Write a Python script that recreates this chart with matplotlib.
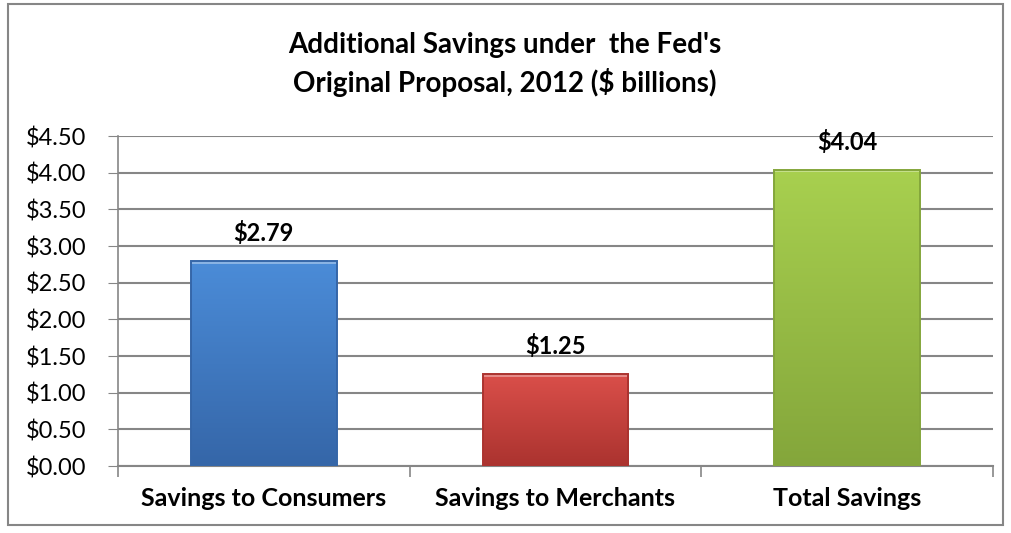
import numpy as np
import matplotlib.pyplot as plt
from matplotlib.patches import Rectangle
from matplotlib.colors import LinearSegmentedColormap

categories = ["Savings to Consumers", "Savings to Merchants", "Total Savings"]
savings = [2.79, 1.25, 4.04]
value_labels = ["$2.79", "$1.25", "$4.04"]
y_ticks = [0.0, 0.5, 1.0, 1.5, 2.0, 2.5, 3.0, 3.5, 4.0, 4.5]

# light top -> dark bottom shading for each bar
bar_shades = [
    ("#4b8cd8", "#3566a8"),
    ("#da4f4a", "#ab332f"),
    ("#a8d04f", "#84a63b"),
]

plt.rcParams["font.family"] = ["Lato", "DejaVu Sans"]

fig = plt.figure(figsize=(10.11, 5.33), dpi=100)
ax = fig.add_axes([0.1167, 0.1257, 0.8655, 0.6191])

x = np.arange(len(categories))
bars = ax.bar(x, savings, width=0.5, color="none", edgecolor="none", zorder=3)

for bar, (top, bottom) in zip(bars, bar_shades):
    x0, w, h = bar.get_x(), bar.get_width(), bar.get_height()
    cmap = LinearSegmentedColormap.from_list("shade", [bottom, top])
    grad = np.linspace(0, 1, 256).reshape(-1, 1)
    im = ax.imshow(grad, cmap=cmap, aspect="auto", origin="lower",
                   extent=(x0, x0 + w, 0, h), zorder=3)
    im.set_clip_path(bar)
    # bevel edges: light rim on top, darker rim round the bar
    ax.add_patch(Rectangle((x0, h - 0.03), w, 0.03, color="white", alpha=0.35,
                           lw=0, zorder=4))
    ax.add_patch(Rectangle((x0, 0), w, h, fill=False, edgecolor=bottom,
                           lw=1.4, zorder=4))

for xi, v, lab in zip(x, savings, value_labels):
    ax.text(xi, v + 0.22, lab, ha="center", va="bottom", fontsize=17,
            fontweight="bold", zorder=5)

ax.set_xlim(-0.5, len(categories) - 0.5)
ax.set_ylim(0, 4.5)
ax.set_yticks(y_ticks)
ax.set_yticklabels([f"${t:.2f}" for t in y_ticks], fontsize=17)
ax.set_xticks(x)
ax.set_xticklabels(categories, fontsize=18, fontweight="bold")
ax.tick_params(axis="x", length=0, pad=15)
ax.tick_params(axis="y", length=7, color="#868686", pad=16)

# category separators below the axis
ax.set_xticks(np.arange(len(categories) + 1) - 0.5, minor=True)
ax.tick_params(axis="x", which="minor", length=8, color="#868686", width=1.2)

ax.grid(axis="y", color="#868686", lw=1.5, zorder=0)
ax.set_axisbelow(True)
for side in ("top", "right"):
    ax.spines[side].set_visible(False)
ax.spines["left"].set_color("#868686")
ax.spines["bottom"].set_color("#868686")
ax.spines["left"].set_linewidth(1.2)
ax.spines["bottom"].set_linewidth(1.5)

fig.text(0.4995, 0.915, "Additional Savings under  the Fed's", ha="center",
         va="center", fontsize=20, fontweight="bold")
fig.text(0.4995, 0.845, "Original Proposal, 2012 ($ billions)", ha="center",
         va="center", fontsize=20, fontweight="bold")

# chart-area border
fig.patches.append(Rectangle((8 / 1011, 1 - 525 / 533), 995 / 1011, 521 / 533,
                             transform=fig.transFigure, fill=False,
                             edgecolor="#868686", lw=1.5))

fig.savefig("out.png", dpi=100)
